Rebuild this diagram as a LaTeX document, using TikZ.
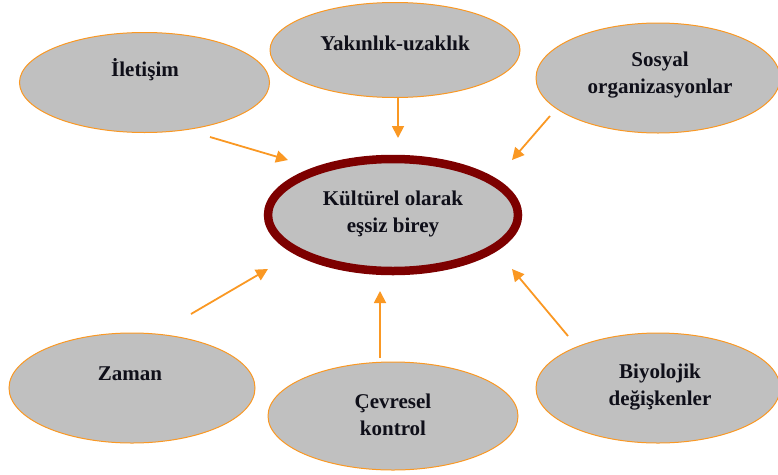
\documentclass[tikz,border=0pt]{standalone}
\usepackage{fontspec}
\setmainfont{Liberation Serif}
\usetikzlibrary{shapes.geometric,arrows.meta}
\definecolor{ellfill}{RGB}{192,192,192}
\definecolor{orng}{RGB}{250,152,35}
\definecolor{darkred}{RGB}{125,0,0}
\definecolor{txt}{RGB}{15,15,25}
\tikzset{
  bubble/.style={ellipse, draw=orng, line width=1pt, fill=ellfill, inner sep=0pt},
  lbl/.style={font=\bfseries\fontsize{21}{27}\selectfont, text=txt, align=center, inner sep=0pt},
  arr/.style={draw=orng, line width=1.8pt, -{Triangle[length=12pt,width=12pt]}}
}
\begin{document}
\begin{tikzpicture}[x=1pt,y=-1pt]
\useasboundingbox (0,0) rectangle (778,474);
% outer ellipses
\node[bubble, minimum width=250pt, minimum height=100pt] (e1) at (144.5,82.5) {};
\node[bubble, minimum width=250pt, minimum height=95pt] (e2) at (395,50) {};
\node[bubble, minimum width=244pt, minimum height=110pt] (e3) at (658,78) {};
\node[bubble, minimum width=246pt, minimum height=110pt] (e4) at (132,388) {};
\node[bubble, minimum width=250pt, minimum height=108pt] (e5) at (393,416) {};
\node[bubble, minimum width=244pt, minimum height=110pt] (e6) at (658,388) {};
% center ellipse
\node[ellipse, draw=darkred, line width=8.5pt, fill=ellfill, inner sep=0pt,
      minimum width=250pt, minimum height=112pt] (c) at (393,215) {};
% labels
\node[lbl] (t1) at (145,70) {İletişim};
\node[lbl] (t2) at (395,43) {Yakınlık-uzaklık};
\node[lbl] (t3) at (660,75) {Sosyal\\organizasyonlar};
\node[lbl] (t4) at (130,374) {Zaman};
\node[lbl] (t5) at (393,415) {Çevresel\\kontrol};
\node[lbl] (t6) at (660,387) {Biyolojik\\değişkenler};
\node[lbl] (tc) at (393,214) {Kültürel olarak\\eşsiz birey};
% arrow end points
\coordinate (a1s) at (210,137); \coordinate (a1e) at (288,160);
\coordinate (a2s) at (398,97);  \coordinate (a2e) at (398,138);
\coordinate (a3s) at (550,116); \coordinate (a3e) at (512,160);
\coordinate (a4s) at (191,314); \coordinate (a4e) at (268,269);
\coordinate (a5s) at (380,358); \coordinate (a5e) at (380,291);
\coordinate (a6s) at (568,336); \coordinate (a6e) at (512,269);
\draw[arr] (a1s) -- (a1e);
\draw[arr] (a2s) -- (a2e);
\draw[arr] (a3s) -- (a3e);
\draw[arr] (a4s) -- (a4e);
\draw[arr] (a5s) -- (a5e);
\draw[arr] (a6s) -- (a6e);
\end{tikzpicture}
\end{document}
